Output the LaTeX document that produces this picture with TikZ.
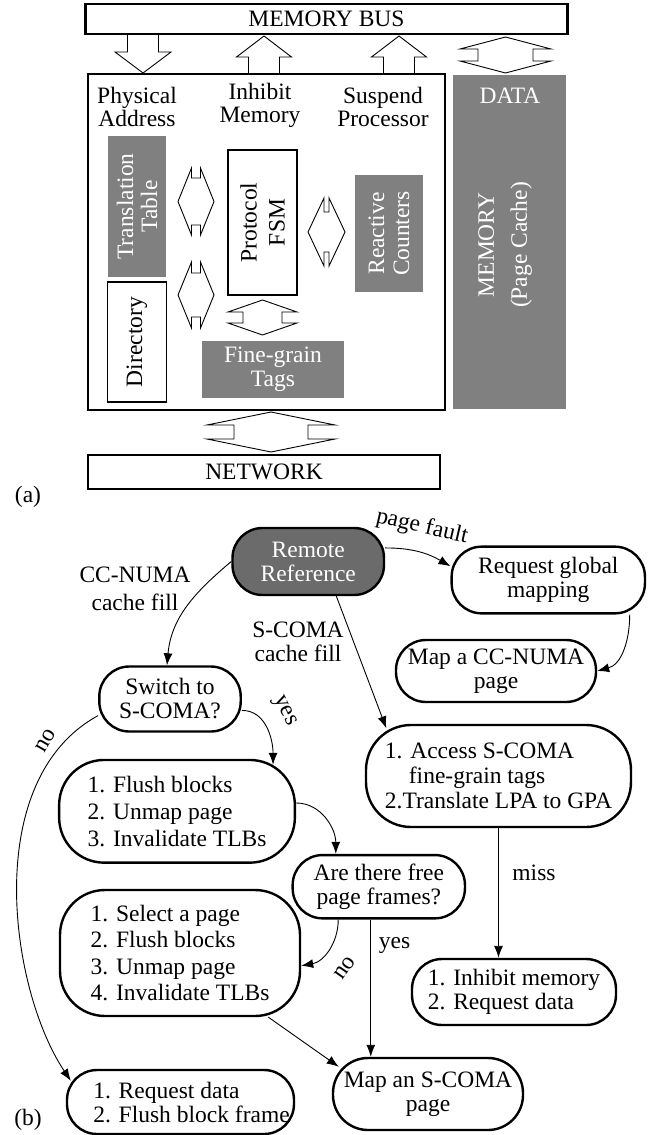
\documentclass[tikz,border=0pt]{standalone}
\usepackage{fontspec}
\setmainfont{Liberation Serif}
\usepackage{xcolor}
\usepackage{tikz}
\usetikzlibrary{arrows.meta}
\definecolor{blockgray}{gray}{0.5}
\definecolor{nodegray}{gray}{0.42}
\newcommand{\fs}[1]{\fontsize{23.5}{#1}\selectfont}
\newcommand{\busdown}[1]{\draw[block_arrow] (#1-15.5,-34) -- (#1-15.5,-52) -- (#1-28,-52) -- (#1,-73) -- (#1+28,-52) -- (#1+15.5,-52) -- (#1+15.5,-34);}
\newcommand{\busup}[1]{\draw[block_arrow] (#1-15.5,-74) -- (#1-15.5,-57) -- (#1-27.5,-57) -- (#1,-36) -- (#1+27.5,-57) -- (#1+15.5,-57) -- (#1+15.5,-74);}
\newcommand{\dblarrow}[7]{\draw[block_arrow, fill=white, shift={(#1,#2)}, rotate=#3] (0,#4) -- (#5,#7) -- (#6,#7) -- (#6,-#7) -- (#5,-#7) -- (0,-#4) -- (-#5,-#7) -- (-#6,-#7) -- (-#6,#7) -- (-#5,#7) -- cycle;}
\tikzset{
    plain_box/.style = {draw=black, line width=2.4pt, inner sep=0pt},
    gray_block/.style = {fill=blockgray, text=white, inner sep=0pt, align=center},
    white_block/.style = {draw=black, line width=1.1pt, fill=white, inner sep=0pt, align=center},
    block_arrow/.style = {draw=black, line width=0.9pt, line join=miter},
    lbl/.style = {align=center, inner sep=0pt},
    flow_box/.style = {draw=black, line width=2.4pt, rounded corners=30pt, align=center, inner sep=0pt},
    list_box/.style = {flow_box, rounded corners=45pt, align=left},
    flow/.style = {->, line width=0.9pt}
}
\begin{document}
\begin{tikzpicture}[x=1pt, y=1pt, >={Latex[length=12pt,width=9pt]},
                    every node/.style={font=\fs{24}}]
\useasboundingbox (0,0) rectangle (653,-1135);
% (a)
\node[plain_box, minimum width=482pt, minimum height=30pt] (bus) at (326.5,-19) {MEMORY BUS};
\node[plain_box, line width=2pt, minimum width=357pt, minimum height=336pt] (card) at (266.5,-242) {};
\node[gray_block, minimum width=113pt, minimum height=334pt] (mem) at (509.5,-242) {};
\node[lbl, text=white] (memdata) at (510,-96) {DATA};
\node[lbl, text=white, rotate=90, font=\fs{33}] (memname) at (505,-245) {MEMORY\\(Page Cache)};
\node[lbl, font=\fs{23}] (physaddr) at (137,-107) {Physical\\Address};
\node[lbl, font=\fs{23}] (inhibitmem) at (260,-105) {Inhibit\\Memory};
\node[lbl, font=\fs{23}] (suspend) at (383,-107) {Suspend\\Processor};
\node[gray_block, rotate=90, minimum width=141pt, minimum height=58pt, font=\fs{24}] (xlate) at (137,-206.5) {Translation\\Table};
\node[white_block, rotate=90, minimum width=120pt, minimum height=59pt] (dir) at (137,-342) {Directory};
\node[white_block, rotate=90, minimum width=145pt, minimum height=69pt, font=\fs{28}] (fsm) at (262.5,-222.5) {Protocol\\FSM};
\node[gray_block, rotate=90, minimum width=117pt, minimum height=68pt, font=\fs{25}] (counters) at (389,-233.5) {Reactive\\Counters};
\node[gray_block, minimum width=142pt, minimum height=57pt, font=\fs{24}] (tags) at (273,-369.5) {Fine-grain\\Tags};
\node[plain_box, minimum width=352pt, minimum height=34pt] (net) at (264,-472) {NETWORK};
\busdown{143}
\busup{264}
\busup{399}
\dblarrow{505.5}{-55}{0}{18}{45.5}{27.5}{6}
\dblarrow{196}{-201.5}{90}{18}{33.5}{23.5}{4.5}
\dblarrow{196}{-295}{90}{18}{33}{22}{4.5}
\dblarrow{326.5}{-232}{90}{18.5}{34}{20}{2.5}
\dblarrow{262.5}{-317.5}{0}{17.5}{34.5}{19.5}{5.5}
\dblarrow{271}{-432}{0}{20}{64}{37}{7}
\node[lbl] (parta) at (28,-497) {(a)};
% (b)
\node[flow_box, fill=nodegray, text=white, minimum width=151.5pt, minimum height=67pt] (remote) at (308.25,-561.5) {Remote\\Reference};
\node[flow_box, minimum width=193.3pt, minimum height=66.7pt] (reqmap) at (548.3,-580) {Request global\\mapping};
\node[flow_box, minimum width=200pt, minimum height=62pt] (mapnuma) at (496,-671) {Map a CC-NUMA\\page};
\node[flow_box, minimum width=141.4pt, minimum height=65pt] (switch) at (170,-699) {Switch to\\S-COMA?};
\node[list_box, minimum width=235.7pt, minimum height=102.7pt, font=\fs{27}] (flush) at (177,-811.3) {1. Flush blocks\\2. Unmap page\\3. Invalidate TLBs};
\node[list_box, minimum width=265pt, minimum height=102pt, font=\fs{25}] (access) at (498.5,-776) {1. Access S-COMA\\\hspace*{24pt}fine-grain tags\\2.Translate LPA to GPA};
\node[flow_box, minimum width=172.3pt, minimum height=63.3pt] (free) at (378.8,-886.7) {Are there free\\page frames?};
\node[list_box, minimum width=240pt, minimum height=126pt, font=\fs{26.5}] (select) at (180,-953) {1. Select a page\\2. Flush blocks\\3. Unmap page\\4. Invalidate TLBs};
\node[flow_box, align=left, minimum width=204pt, minimum height=66pt, font=\fs{24}] (inhibit) at (514,-992) {1. Inhibit memory\\2. Request data};
\node[flow_box, rounded corners=35pt, minimum width=190pt, minimum height=72pt] (mapscoma) at (428,-1094) {Map an S-COMA\\page};
\node[flow_box, align=left, minimum width=227pt, minimum height=64pt, font=\fs{24}] (reqdata) at (180.5,-1102) {\hspace*{22pt}1. Request data\\\hspace*{22pt}2. Flush block frame};
\node[lbl, rotate=-13] (lbl_fault) at (422,-527) {page fault};
\node[lbl, font=\fs{28}] (lbl_numa) at (135,-589) {CC-NUMA\\cache fill};
\node[lbl, font=\fs{24}] (lbl_scoma) at (298,-642) {S-COMA\\cache fill};
\node[lbl, rotate=-65] (lbl_yes1) at (284,-711) {yes};
\node[lbl, rotate=60] (lbl_no1) at (46,-741) {no};
\node[lbl] (lbl_miss) at (534,-873) {miss};
\node[lbl, rotate=55] (lbl_no2) at (345,-968) {no};
\node[lbl] (lbl_yes2) at (394.5,-945) {yes};
\node[lbl] (partb) at (28,-1120) {(b)};
\draw[flow] (remote.10) to[out=0, in=150] (reqmap.172);
\draw[flow] (remote.west) to[out=220, in=85] ([xshift=-3pt]switch.north);
\draw[flow] (remote.-51) -- ([xshift=21.5pt,yshift=-4.5pt]access.north west);
\draw[flow] (reqmap.-23.5) to[out=-90, in=15] (mapnuma.east);
\draw[flow] (switch.-9) to[out=0, in=90] ([xshift=-23pt,yshift=-6pt]flush.north east);
\draw[flow] (switch.193) .. controls (-20,-780) and (10,-990) .. ([xshift=5pt,yshift=-12pt]reqdata.north west);
\draw[flow] (flush.4) to[out=0, in=90] ([xshift=-43pt]free.north);
\draw[flow] (free.-141) to[out=-90, in=10] (select.-6);
\draw[flow] ([xshift=-8pt]free.south) -- ([xshift=-8pt]free.south |- mapscoma.north);
\draw[flow] (access.south) -- (access.south |- inhibit.north);
\draw[flow] (select.-36) -- ([xshift=7pt,yshift=-10pt]mapscoma.north west);
\end{tikzpicture}
\end{document}
